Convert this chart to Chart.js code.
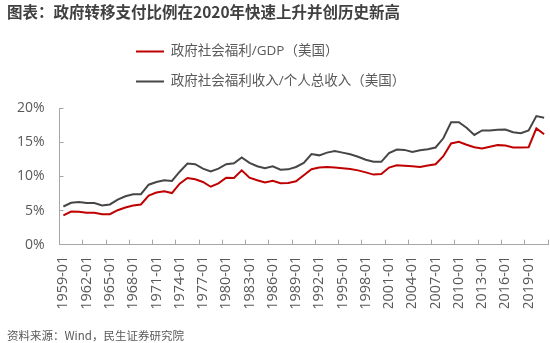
<!DOCTYPE html>
<html>
<head>
<meta charset="utf-8">
<script src="https://cdn.jsdelivr.net/npm/chart.js@4.4.1/dist/chart.umd.min.js"></script>
<style>
  html, body { margin: 0; padding: 0; background: #fff; }
  #chart { display: block; }
</style>
</head>
<body>
<canvas id="chart" width="550" height="343"></canvas>
<script>
const years = [1959, 1960, 1961, 1962, 1963, 1964, 1965, 1966, 1967, 1968,
    1969, 1970, 1971, 1972, 1973, 1974, 1975, 1976, 1977, 1978,
    1979, 1980, 1981, 1982, 1983, 1984, 1985, 1986, 1987, 1988,
    1989, 1990, 1991, 1992, 1993, 1994, 1995, 1996, 1997, 1998,
    1999, 2000, 2001, 2002, 2003, 2004, 2005, 2006, 2007, 2008,
    2009, 2010, 2011, 2012, 2013, 2014, 2015, 2016, 2017, 2018,
    2019, 2020, 2021];

const tickLabels = ['1959-01', '1962-01', '1965-01', '1968-01', '1971-01', '1974-01',
    '1977-01', '1980-01', '1983-01', '1986-01', '1989-01', '1992-01', '1995-01',
    '1998-01', '2001-01', '2004-01', '2007-01', '2010-01', '2013-01', '2016-01', '2019-01'];

// 政府社会福利/GDP, %
const benefitToGdp = [4.3, 4.85, 4.82, 4.67, 4.67, 4.47, 4.47, 5.06, 5.46, 5.75,
    5.9, 7.2, 7.65, 7.82, 7.57, 8.95, 9.78, 9.59, 9.2, 8.5,
    9.0, 9.83, 9.78, 10.9, 9.83, 9.44, 9.14, 9.37, 9.0, 9.05,
    9.29, 10.18, 11.06, 11.31, 11.4, 11.31, 11.2, 11.1, 10.9, 10.6,
    10.28, 10.38, 11.31, 11.65, 11.58, 11.5, 11.4, 11.6, 11.8, 12.98,
    14.85, 15.1, 14.65, 14.3, 14.1, 14.35, 14.6, 14.55, 14.26, 14.26,
    14.3, 17.06, 16.2];

// 政府社会福利收入/个人总收入, %
const benefitToIncome = [5.6, 6.15, 6.25, 6.1, 6.1, 5.75, 5.9, 6.6, 7.1, 7.4,
    7.4, 8.8, 9.2, 9.45, 9.35, 10.7, 11.9, 11.8, 11.15, 10.75,
    11.15, 11.8, 11.95, 12.8, 12.0, 11.5, 11.2, 11.5, 11.0, 11.05,
    11.4, 12.0, 13.3, 13.1, 13.5, 13.75, 13.5, 13.25, 12.9, 12.45,
    12.15, 12.15, 13.45, 13.95, 13.9, 13.6, 13.85, 14.0, 14.25, 15.6,
    17.95, 17.95, 17.15, 16.1, 16.75, 16.75, 16.85, 16.9, 16.5, 16.35,
    16.75, 18.85, 18.6];

const yTicks = [0, 5, 10, 15, 20];

const categories = years.map(y => y + '-01');
const axisGray = '#a6a6a6';
const textGray = '#595959';

Chart.defaults.font.family = '"Open Sans", "Noto Sans CJK SC", sans-serif';
Chart.defaults.color = textGray;

// two stacked legend rows, left aligned under the title
const legendPlace = {
    id: 'legendPlace',
    afterLayout(chart) {
        const lg = chart.legend;
        const h = lg.height;
        lg.left = 119.5;
        lg.top = 28.25;
        lg.bottom = lg.top + h;
    }
};

new Chart(document.getElementById('chart'), {
    type: 'line',
    data: {
        labels: categories,
        datasets: [{
            label: '政府社会福利/GDP（美国）',
            data: benefitToGdp,
            borderColor: '#c00000',
            backgroundColor: '#c00000',
            borderWidth: 2,
            pointRadius: 0,
            tension: 0
        }, {
            label: '政府社会福利收入/个人总收入（美国）',
            data: benefitToIncome,
            borderColor: '#464646',
            backgroundColor: '#464646',
            borderWidth: 2,
            pointRadius: 0,
            tension: 0
        }]
    },
    options: {
        responsive: false,
        animation: false,
        devicePixelRatio: 1,
        layout: { padding: { left: 7, right: 2, top: 0, bottom: 0 } },
        plugins: {
            title: {
                display: true,
                text: '图表：政府转移支付比例在2020年快速上升并创历史新高',
                align: 'start',
                color: '#404040',
                font: { family: '"Noto Sans CJK SC", sans-serif', size: 15.5, weight: 'bold' },
                padding: { top: 2.7, bottom: 17 }
            },
            subtitle: {
                display: true,
                position: 'bottom',
                align: 'start',
                text: '资料来源：Wind，民生证券研究院',
                color: textGray,
                font: { family: '"Noto Sans CJK SC", sans-serif', size: 11.5 },
                padding: { top: 21, bottom: 0 }
            },
            legend: {
                position: 'top',
                align: 'start',
                fullSize: false,
                labels: {
                    boxWidth: 28,
                    boxHeight: 0,
                    padding: 16.5,
                    color: textGray,
                    font: { size: 13.5 }
                }
            },
            tooltip: { enabled: false }
        },
        scales: {
            x: {
                offset: true,
                afterFit: scale => {
                    scale.height = 63.5;
                    scale.paddingLeft = 0;
                    scale.paddingRight = 0;
                },
                grid: {
                    offset: true,
                    drawOnChartArea: false,
                    tickLength: -5,
                    tickColor: c => (c.index === undefined || tickLabels.includes(categories[c.index])) ? axisGray : 'rgba(0,0,0,0)'
                },
                border: { color: axisGray, width: 1 },
                ticks: {
                    autoSkip: false,
                    minRotation: 90,
                    maxRotation: 90,
                    padding: 16,
                    color: textGray,
                    font: { size: 14.4 },
                    callback(value) {
                        const l = this.getLabelForValue(value);
                        return tickLabels.includes(l) ? l : '';
                    }
                }
            },
            y: {
                min: 0,
                max: 20,
                afterBuildTicks: scale => { scale.ticks = yTicks.map(v => ({ value: v })); },
                afterFit: scale => { scale.width = 52.5; },
                grid: {
                    drawOnChartArea: false,
                    tickLength: -4,
                    tickColor: axisGray
                },
                border: { color: axisGray, width: 1 },
                ticks: {
                    padding: 19,
                    color: textGray,
                    font: { size: 14 },
                    callback: v => v + '%'
                }
            }
        }
    },
    plugins: [legendPlace]
});
</script>
</body>
</html>
